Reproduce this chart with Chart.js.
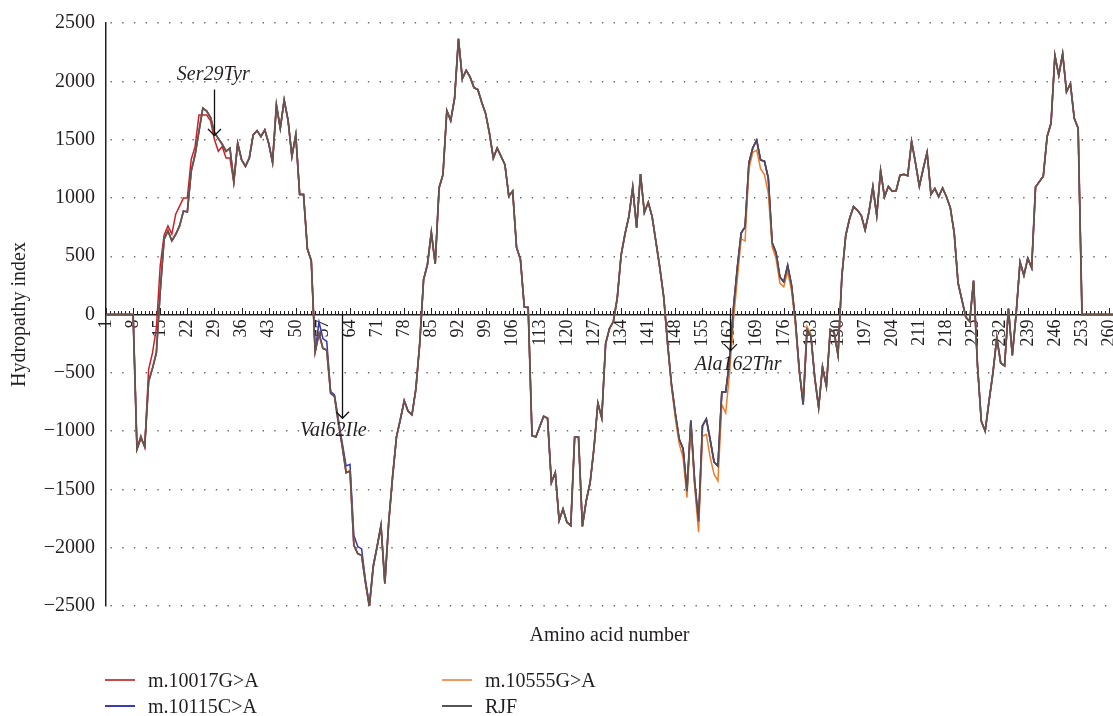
<!DOCTYPE html>
<html>
<head>
<meta charset="utf-8">
<script src="https://cdn.jsdelivr.net/npm/chart.js@4.4.1/dist/chart.umd.min.js"></script>
<style>
html,body{margin:0;padding:0;background:#fff;}
#wrap{position:relative;width:1113px;height:716px;overflow:hidden;}
#c{position:absolute;left:0;top:0;}
#legend{position:absolute;left:0;top:0;width:1113px;height:716px;pointer-events:none;
  font-family:'Liberation Serif','Times New Roman',serif;font-size:20px;color:#231f20;}
.item{position:absolute;display:flex;align-items:center;height:24px;white-space:nowrap;}
.sw{width:30px;height:2px;margin-right:13px;}
</style>
</head>
<body>
<div id="wrap"><canvas id="c" width="1113" height="716"></canvas><div id="legend"></div></div>
<script>
// ---------------- data ----------------
const residueCount = 261;
const categories = Array.from({length: residueCount}, (_, i) => String(i + 1));
const tickLabels = [1,8,15,22,29,36,43,50,57,64,71,78,85,92,99,106,113,120,127,134,141,148,155,162,169,176,183,190,197,204,211,218,225,232,239,246,253,260];
const yTicks = [-2500,-2000,-1500,-1000,-500,0,500,1000,1500,2000,2500];

const seriesNames = ['m.10017G>A','m.10115C>A','m.10555G>A','RJF'];

const rjf = [
 0,0,0,0,0,0,0,0,-1155,-1058,
 -1130,-575,-462,-330,200,646,717,632,688,760,
 887,880,1230,1370,1570,1770,1745,1690,1560,1510,
 1460,1400,1427,1143,1469,1327,1271,1342,1540,1577,
 1526,1583,1469,1305,1796,1597,1838,1668,1356,1540,
 1030,1030,561,462,-320,-163,-291,-305,-675,-703,
 -930,-1130,-1356,-1342,-1980,-2051,-2066,-2300,-2506,-2165,
 -1990,-1810,-2307,-1780,-1390,-1050,-900,-740,-830,-860,
 -640,-250,300,430,703,433,1086,1199,1748,1663,
 1853,2364,2023,2094,2037,1946,1929,1820,1725,1555,
 1342,1427,1356,1285,1015,1058,575,475,64,60,
 -1040,-1050,-960,-873,-890,-1441,-1356,-1767,-1668,-1782,
 -1810,-1052,-1052,-1818,-1597,-1441,-1143,-760,-887,-249,
 -120,-60,140,510,690,840,1090,745,1205,875,
 962,840,620,400,150,-250,-600,-850,-1070,-1150,
 -1515,-910,-1440,-1775,-955,-895,-1075,-1265,-1300,-665,
 -665,-400,50,400,700,750,1300,1430,1495,1325,
 1315,1170,615,530,320,280,420,250,-55,-478,
 -771,-130,-185,-544,-797,-450,-615,-130,-153,-348,
 330,680,823,925,895,850,725,880,1095,850,
 1233,1009,1098,1057,1061,1194,1202,1190,1484,1300,
 1100,1250,1390,1030,1080,1010,1085,1010,915,700,
 270,124,-23,-60,290,-430,-916,-1000,-740,-500,
 -200,-415,-440,50,-350,10,450,335,482,400,
 1094,1140,1186,1527,1640,2221,2051,2236,1910,1980,
 1682,1597,0,0,0,0,0,0,0,0,
 0
];

const m10017 = [
 0,0,0,0,0,0,0,0,-1150,-1040,
 -1140,-472,-330,-120,420,680,760,690,860,930,
 1000,1000,1330,1440,1710,1710,1710,1660,1500,1400,
 1440,1342,1342,1130,1469,1327,1271,1342,1540,1577,
 1526,1583,1469,1305,1796,1597,1838,1668,1356,1540,
 1030,1030,561,462,-320,-163,-291,-305,-675,-703,
 -930,-1130,-1356,-1342,-1980,-2051,-2066,-2300,-2506,-2165,
 -1990,-1810,-2307,-1780,-1390,-1050,-900,-740,-830,-860,
 -640,-250,300,430,703,433,1086,1199,1748,1663,
 1853,2364,2023,2094,2037,1946,1929,1820,1725,1555,
 1342,1427,1356,1285,1015,1058,575,475,64,60,
 -1040,-1050,-960,-873,-890,-1441,-1356,-1767,-1668,-1782,
 -1810,-1052,-1052,-1818,-1597,-1441,-1143,-760,-887,-249,
 -120,-60,140,510,690,840,1090,745,1205,875,
 962,840,620,400,150,-250,-600,-850,-1070,-1150,
 -1515,-910,-1440,-1775,-955,-895,-1075,-1265,-1300,-665,
 -665,-400,50,400,700,750,1300,1430,1495,1325,
 1315,1170,615,530,320,280,420,250,-55,-478,
 -771,-130,-185,-544,-797,-450,-615,-130,-153,-348,
 330,680,823,925,895,850,725,880,1095,850,
 1233,1009,1098,1057,1061,1194,1202,1190,1484,1300,
 1100,1250,1390,1030,1080,1010,1085,1010,915,700,
 270,124,-23,-60,290,-430,-916,-1000,-740,-500,
 -200,-415,-440,50,-350,10,450,335,482,400,
 1094,1140,1186,1527,1640,2221,2051,2236,1910,1980,
 1682,1597,0,0,0,0,0,0,0,0,
 0
];

const m10115 = [
 0,0,0,0,0,0,0,0,-1155,-1058,
 -1130,-575,-462,-330,200,646,717,632,688,760,
 887,880,1230,1370,1570,1770,1745,1690,1560,1510,
 1460,1400,1427,1143,1469,1327,1271,1342,1540,1577,
 1526,1583,1469,1305,1796,1597,1838,1668,1356,1540,
 1030,1030,561,462,-320,-64,-206,-230,-660,-690,
 -900,-1100,-1299,-1285,-1895,-1990,-2010,-2280,-2490,-2150,
 -1990,-1810,-2307,-1780,-1390,-1050,-900,-740,-830,-860,
 -640,-250,300,430,703,433,1086,1199,1748,1663,
 1853,2364,2023,2094,2037,1946,1929,1820,1725,1555,
 1342,1427,1356,1285,1015,1058,575,475,64,60,
 -1040,-1050,-960,-873,-890,-1441,-1356,-1767,-1668,-1782,
 -1810,-1052,-1052,-1818,-1597,-1441,-1143,-760,-887,-249,
 -120,-60,140,510,690,840,1090,745,1205,875,
 962,840,620,400,150,-250,-600,-850,-1070,-1150,
 -1515,-910,-1440,-1775,-955,-895,-1075,-1265,-1300,-665,
 -665,-400,50,400,700,750,1300,1430,1495,1325,
 1315,1170,615,530,320,280,420,250,-55,-478,
 -771,-130,-185,-544,-797,-450,-615,-130,-153,-348,
 330,680,823,925,895,850,725,880,1095,850,
 1233,1009,1098,1057,1061,1194,1202,1190,1484,1300,
 1100,1250,1390,1030,1080,1010,1085,1010,915,700,
 270,124,-23,-60,290,-430,-916,-1000,-740,-500,
 -200,-415,-440,50,-350,10,450,335,482,400,
 1094,1140,1186,1527,1640,2221,2051,2236,1910,1980,
 1682,1597,0,0,0,0,0,0,0,0,
 0
];

const m10555 = [
 0,0,0,0,0,0,0,0,-1155,-1058,
 -1130,-575,-462,-330,200,646,717,632,688,760,
 887,880,1230,1370,1570,1770,1745,1690,1560,1510,
 1460,1400,1427,1143,1469,1327,1271,1342,1540,1577,
 1526,1583,1469,1305,1796,1597,1838,1668,1356,1540,
 1030,1030,561,462,-320,-163,-291,-305,-675,-703,
 -930,-1130,-1356,-1342,-1980,-2051,-2066,-2300,-2506,-2165,
 -1990,-1810,-2307,-1780,-1390,-1050,-900,-740,-830,-860,
 -640,-250,300,430,703,433,1086,1199,1748,1663,
 1853,2364,2023,2094,2037,1946,1929,1820,1725,1555,
 1342,1427,1356,1285,1015,1058,575,475,64,60,
 -1040,-1050,-960,-873,-890,-1441,-1356,-1767,-1668,-1782,
 -1810,-1052,-1052,-1818,-1597,-1441,-1143,-760,-887,-249,
 -120,-60,140,510,690,840,1090,745,1205,875,
 962,840,620,400,150,-250,-620,-890,-1110,-1230,
 -1570,-960,-1480,-1867,-1043,-1029,-1228,-1370,-1427,-773,
 -845,-500,-50,300,650,630,1250,1390,1410,1250,
 1200,1040,580,480,270,238,370,205,-88,-500,
 -700,-104,-170,-544,-797,-450,-615,-130,-153,-348,
 330,680,823,925,895,850,725,880,1095,850,
 1233,1009,1098,1057,1061,1194,1202,1190,1484,1300,
 1100,1250,1390,1030,1080,1010,1085,1010,915,700,
 270,124,-23,-60,290,-430,-916,-1000,-740,-500,
 -200,-415,-440,50,-350,10,450,335,482,400,
 1094,1140,1186,1527,1640,2221,2051,2236,1910,1980,
 1682,1597,0,0,0,0,0,0,0,0,
 0
];

// annotations: label, mutated residue, text centre (residue, value), arrow from/to values
const annotationLabels = ['Ser29Tyr','Val62Ile','Ala162Thr'];
const annotationResidues = [29, 62, 162];
const annotationTextResidue = [28.7, 59.7, 164.2];
const annotationTextValue = [2060, -995, -430];
const annotationArrowFrom = [1930, 0, 40];
const annotationArrowTo = [1535, -890, -310];

// ---------------- styling ----------------
const FONT = "'Liberation Serif','Times New Roman',serif";
const INK = '#231f20';
const colors = {
  'm.10017G>A': '#cc1f26',
  'm.10115C>A': '#3136b8',
  'm.10555G>A': '#f07a2a',
  'RJF': 'rgba(82,78,82,0.86)'
};
const legendColors = {
  'm.10017G>A': '#c84a4a',
  'm.10115C>A': '#3a3ab8',
  'm.10555G>A': '#f09a62',
  'RJF': '#555555'
};
const seriesData = {'m.10017G>A': m10017, 'm.10115C>A': m10115, 'm.10555G>A': m10555, 'RJF': rjf};
const drawOrder = {'m.10017G>A': 3, 'm.10115C>A': 2, 'm.10555G>A': 1, 'RJF': 0};

// legend (HTML, two columns)
const legendPos = [[105, 668], [105, 694], [442, 668], [442, 694]];
const legendEl = document.getElementById('legend');
seriesNames.forEach((name, i) => {
  const it = document.createElement('div');
  it.className = 'item';
  it.style.left = legendPos[i][0] + 'px';
  it.style.top = legendPos[i][1] + 'px';
  const sw = document.createElement('div');
  sw.className = 'sw';
  sw.style.background = legendColors[name];
  const tx = document.createElement('span');
  tx.textContent = name;
  it.appendChild(sw); it.appendChild(tx);
  legendEl.appendChild(it);
});

// x axis small ticks (drawn with the library's scale)
const axisTicksPlugin = {
  id: 'axisTicks',
  beforeDatasetsDraw(chart) {
    const xs = chart.scales.x, ys = chart.scales.y, ctx = chart.ctx;
    const y0 = Math.round(ys.getPixelForValue(0));
    ctx.save();
    ctx.strokeStyle = INK;
    ctx.lineWidth = 1;
    ctx.beginPath();
    for (let i = 0; i < xs.ticks.length; i++) {
      const px = Math.round(xs.getPixelForTick(i)) + 0.5;
      const major = tickLabels.includes(i + 1);
      ctx.moveTo(px, y0);
      ctx.lineTo(px, y0 - (major ? 7 : 4));
    }
    ctx.stroke();
    ctx.restore();
  }
};

const annotationPlugin = {
  id: 'mutationLabels',
  afterDatasetsDraw(chart) {
    const xs = chart.scales.x, ys = chart.scales.y, ctx = chart.ctx;
    ctx.save();
    ctx.strokeStyle = '#111';
    ctx.fillStyle = INK;
    ctx.lineWidth = 1.3;
    annotationLabels.forEach((lab, i) => {
      const ax = Math.round(xs.getPixelForValue(annotationResidues[i] - 1)) + 0.5;
      const y1 = ys.getPixelForValue(annotationArrowFrom[i]);
      const y2 = ys.getPixelForValue(annotationArrowTo[i]);
      ctx.beginPath();
      ctx.moveTo(ax, y1); ctx.lineTo(ax, y2);
      ctx.moveTo(ax - 6.5, y2 - 6.5); ctx.lineTo(ax, y2); ctx.lineTo(ax + 6.5, y2 - 6.5);
      ctx.stroke();
      ctx.font = 'italic 20px ' + FONT;
      ctx.textAlign = 'center';
      ctx.textBaseline = 'middle';
      ctx.fillText(lab, xs.getPixelForValue(annotationTextResidue[i] - 1), ys.getPixelForValue(annotationTextValue[i]));
    });
    ctx.restore();
  }
};

const datasets = seriesNames.map(name => ({
  label: name,
  data: seriesData[name],
  borderColor: colors[name],
  backgroundColor: colors[name],
  borderWidth: name === 'RJF' ? 1.8 : 1.5,
  pointRadius: 0,
  pointHoverRadius: 0,
  tension: 0,
  fill: false,
  order: drawOrder[name]
}));

new Chart(document.getElementById('c'), {
  type: 'line',
  data: { labels: categories, datasets },
  options: {
    responsive: false,
    animation: false,
    events: [],
    layout: { padding: { top: 19, right: 0, bottom: 66, left: 0 } },
    plugins: { legend: { display: false }, tooltip: { enabled: false } },
    scales: {
      x: {
        type: 'category',
        position: { y: 0 },
        offset: false,
        grid: { display: false, drawTicks: false },
        border: { display: true, color: INK, width: 1.5 },
        ticks: {
          autoSkip: false, maxRotation: 90, minRotation: 90, padding: 5,
          color: INK, font: { family: FONT, size: 18 },
          callback: function (v) {
            const lab = this.getLabelForValue(v);
            return tickLabels.includes(Number(lab)) ? lab : '';
          }
        },
        afterFit(s) { s.height = 0; s.paddingLeft = 0; s.paddingRight = 0; }
      },
      xTitle: {
        type: 'category',
        position: 'bottom',
        offset: false,
        grid: { display: false, drawTicks: false },
        border: { display: false },
        ticks: { display: false },
        title: { display: true, text: 'Amino acid number', color: INK,
                 font: { family: FONT, size: 20 }, padding: { top: 0, bottom: 2 } },
        afterFit(s) { s.height = 44; s.paddingLeft = 0; s.paddingRight = 0; }
      },
      y: {
        min: yTicks[0], max: yTicks[yTicks.length - 1],
        afterBuildTicks(s) { s.ticks = yTicks.map(v => ({ value: v })); },
        ticks: {
          color: INK, padding: 11, font: { family: FONT, size: 20 },
          callback: v => (v < 0 ? '\u2212' + Math.abs(v) : String(v))
        },
        grid: {
          drawTicks: false, lineWidth: 1.4,
          color: c => (c.tick && c.tick.value === 0 ? 'rgba(0,0,0,0)' : '#6a6a6a')
        },
        border: { display: true, color: INK, width: 1.5, dash: [1.4, 10.3], dashOffset: -4 },
        title: { display: true, text: 'Hydropathy index', color: INK,
                 font: { family: FONT, size: 20 }, padding: { top: 8, bottom: 0 } },
        afterFit(s) { s.width = 106; }
      }
    }
  },
  plugins: [axisTicksPlugin, annotationPlugin]
});
</script>
</body>
</html>
